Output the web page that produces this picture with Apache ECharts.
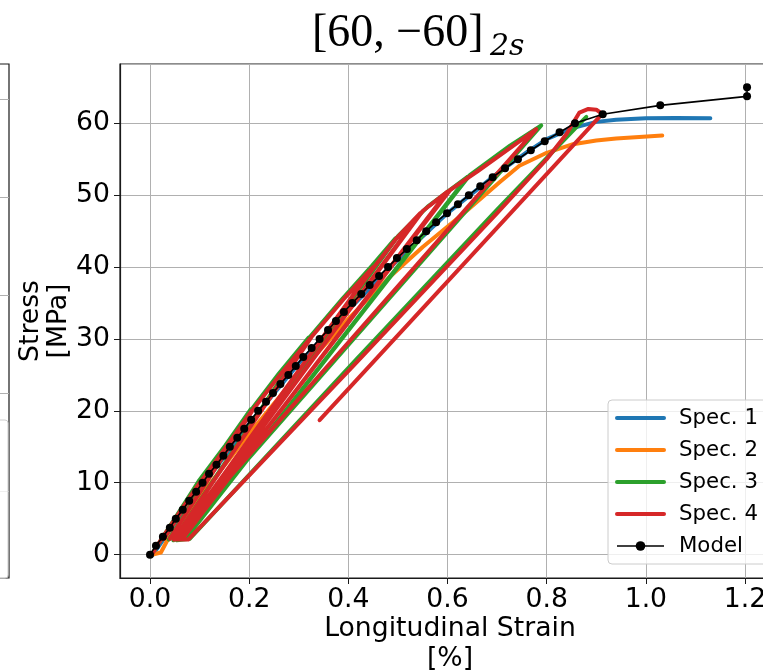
<!DOCTYPE html>
<html><head><meta charset="utf-8">
<script src="https://cdn.jsdelivr.net/npm/echarts@6/dist/echarts.min.js"></script>
<style>html,body{margin:0;padding:0;background:#fff}#c{width:763px;height:672px}</style>
</head><body><div id="c"></div>
<script>
// ---- data (strain in %, stress in MPa) ----
const modelStrain = [0, 0.012, 0.026, 0.040, 0.052, 0.066, 0.079, 0.093, 0.106, 0.119, 0.134, 0.148, 0.161, 0.176, 0.190, 0.204, 0.218, 0.234, 0.248, 0.263, 0.279, 0.294, 0.309, 0.326, 0.342, 0.359, 0.375, 0.391, 0.408, 0.426, 0.443, 0.462, 0.480, 0.498, 0.518, 0.538, 0.557, 0.577, 0.599, 0.621, 0.643, 0.666, 0.691, 0.716, 0.742, 0.768, 0.796, 0.826, 0.857, 0.913, 1.029, 1.204, 1.204];
const modelStress = [0, 1.25, 2.5, 3.75, 5, 6.25, 7.5, 8.75, 10, 11.25, 12.5, 13.75, 15, 16.25, 17.5, 18.75, 20, 21.25, 22.5, 23.75, 25, 26.25, 27.5, 28.75, 30, 31.25, 32.5, 33.75, 35, 36.25, 37.5, 38.75, 40, 41.25, 42.5, 43.75, 45, 46.25, 47.5, 48.75, 50, 51.25, 52.5, 53.75, 55, 56.25, 57.5, 58.75, 60, 61.25, 62.5, 63.75, 65];

const spec1Strain = [0.006, 0.05, 0.10, 0.20, 0.30, 0.40, 0.50, 0.60, 0.70, 0.76, 0.80, 0.85, 0.90, 0.94, 1.00, 1.06, 1.13];
const spec1Stress = [0, 4.4, 9.1, 18.2, 26.6, 34.0, 41.0, 47.5, 53.0, 56.0, 57.8, 59.3, 60.2, 60.5, 60.7, 60.75, 60.7];

const spec2Strain = [0.005, 0.022, 0.035, 0.10, 0.20, 0.30, 0.40, 0.48, 0.55, 0.64, 0.705, 0.745, 0.80, 0.853, 0.90, 0.94, 1.033];
const spec2Stress = [0, 0.3, 2.0, 8.0, 16.8, 25.2, 32.8, 38.4, 42.8, 47.9, 51.8, 54.1, 55.9, 57.1, 57.6, 57.9, 58.3];

const spec3Strain = [0.003, 0.050, 0.098, 0.152, 0.203, 0.038, 0.207, 0.260, 0.320, 0.047, 0.324, 0.388, 0.448, 0.495, 0.058, 0.500, 0.560, 0.641, 0.072, 0.645, 0.726, 0.789, 0.054, 0.080, 0.418, 0.700, 0.873, 0.880];
const spec3Stress = [0, 5.0, 10.2, 15.2, 20.2, 2.1, 20.4, 25.2, 30.2, 2.0, 30.4, 35.6, 40.2, 44.0, 2.1, 44.3, 48.4, 52.6, 2.2, 52.8, 56.9, 59.7, 2.0, 2.2, 27.3, 48.0, 60.4, 60.9];

const spec4Strain = [0.004, 0.012, 0.050, 0.100, 0.028, 0.060, 0.104, 0.154, 0.205, 0.040, 0.120, 0.209, 0.262, 0.322, 0.048, 0.180, 0.326, 0.390, 0.450, 0.055, 0.250, 0.455, 0.497, 0.545, 0.062, 0.300, 0.550, 0.600, 0.068, 0.350, 0.605, 0.662, 0.735, 0.779, 0.050, 0.077, 0.420, 0.700, 0.800, 0.840, 0.866, 0.884, 0.900, 0.912, 0.342];
const spec4Stress = [0.0, 1.0, 4.9, 10.0, 2.2, 5.6, 10.3, 15.0, 20.0, 2.2, 10.7, 20.3, 25.0, 30.0, 2.1, 15.5, 30.3, 35.5, 40.0, 2.2, 20.8, 40.3, 44.0, 47.5, 2.3, 24.5, 47.8, 50.5, 2.4, 27.8, 50.7, 53.4, 57.0, 59.2, 2.1, 2.1, 27.0, 47.5, 55.0, 58.5, 61.5, 62.0, 61.9, 61.3, 18.7];

const seriesNames = ['Spec. 1', 'Spec. 2', 'Spec. 3', 'Spec. 4', 'Model'];
const seriesColors = ['#1f77b4', '#ff7f0e', '#2ca02c', '#d62728', '#000000'];

function pairs(xs, ys) { return xs.map((x, i) => [x, ys[i]]); }

const FONT = 'DejaVu Sans';
const chart = echarts.init(document.getElementById('c'), null, { renderer: 'canvas' });

function specSeries(i, xs, ys) {
  return {
    name: seriesNames[i], type: 'line', xAxisIndex: 0, yAxisIndex: 0,
    data: pairs(xs, ys), symbol: 'none', showSymbol: false,
    lineStyle: { width: 4, color: seriesColors[i], join: 'round', cap: 'round' },
    itemStyle: { color: seriesColors[i] },
    z: 2 + i, silent: true, clip: true
  };
}

const option = {
  animation: false,
  backgroundColor: '#ffffff',
  title: [
    { text: '[60, \u221260]', left: 312, top: 11, padding: 0,
      textStyle: { fontFamily: 'Liberation Serif', fontSize: 46, fontWeight: 'normal', color: '#000' } },
    { text: '2s', left: 490, top: 32, padding: 0,
      textStyle: { fontFamily: 'DejaVu Serif', fontStyle: 'italic', fontSize: 30, fontWeight: 'normal', color: '#000' } }
  ],
  grid: [
    { left: 120, right: -17, top: 64, bottom: 94, show: true, borderColor: '#1a1a1a', borderWidth: 1.2,
      backgroundColor: 'transparent', outerBoundsMode: 'none', containLabel: false },
    { left: -300, right: 754, top: 64, bottom: 94, show: true, borderColor: '#1a1a1a', borderWidth: 1.2,
      backgroundColor: 'transparent', outerBoundsMode: 'none', containLabel: false }
  ],
  xAxis: [
    { type: 'value', gridIndex: 0, min: -0.0605, max: 1.2705, splitNumber: 6,
      axisLine: { show: true, onZero: false, lineStyle: { color: '#1a1a1a', width: 1.2 } },
      axisTick: { show: true, length: 6, lineStyle: { color: '#1a1a1a', width: 1 } },
      axisLabel: { fontFamily: FONT, fontSize: 26.67, color: '#000', margin: 9,
        showMinLabel: false, showMaxLabel: false, formatter: v => v.toFixed(1) },
      splitLine: { show: true, lineStyle: { color: '#b0b0b0', width: 1 } },
      name: 'Longitudinal Strain\n[%]', nameLocation: 'middle', nameGap: 36, nameMoveOverlap: false,
      nameTextStyle: { fontFamily: FONT, fontSize: 26.67, color: '#000', lineHeight: 30 } },
    { type: 'value', gridIndex: 1, min: 0, max: 1, show: false }
  ],
  yAxis: [
    { type: 'value', gridIndex: 0, min: -3.25, max: 68.25, splitNumber: 7,
      axisLine: { show: true, onZero: false, lineStyle: { color: '#1a1a1a', width: 1.2 } },
      axisTick: { show: true, length: 6, lineStyle: { color: '#1a1a1a', width: 1 } },
      axisLabel: { fontFamily: FONT, fontSize: 26.67, color: '#000', margin: 10,
        showMinLabel: false, showMaxLabel: false, formatter: v => String(Math.round(v)) },
      splitLine: { show: true, lineStyle: { color: '#b0b0b0', width: 1 } },
      name: 'Stress\n[MPa]', nameLocation: 'middle', nameGap: 47, nameRotate: 90, nameMoveOverlap: false,
      nameTextStyle: { fontFamily: FONT, fontSize: 26.67, color: '#000', lineHeight: 28 } },
    { type: 'value', gridIndex: 1, min: -0.888, max: 4.357, splitNumber: 5,
      axisLine: { show: false }, axisTick: { show: false }, axisLabel: { show: false },
      splitLine: { show: true, showMinLine: false, showMaxLine: false, lineStyle: { color: '#b0b0b0', width: 1 } } }
  ],
  legend: {
    left: 608, top: 400, orient: 'vertical',
    padding: [7, 14, 7, 7], itemWidth: 47, itemHeight: 12, itemGap: 10,
    backgroundColor: 'rgba(255,255,255,0.8)', borderColor: '#cccccc', borderWidth: 1, borderRadius: 4,
    textStyle: { fontFamily: FONT, fontSize: 21.3, color: '#000', lineHeight: 22, padding: [0, 0, 0, 10] },
    data: [
      { name: 'Spec. 1', itemStyle: { opacity: 0 }, lineStyle: { width: 4 } },
      { name: 'Spec. 2', itemStyle: { opacity: 0 }, lineStyle: { width: 4 } },
      { name: 'Spec. 3', itemStyle: { opacity: 0 }, lineStyle: { width: 4 } },
      { name: 'Spec. 4', itemStyle: { opacity: 0 }, lineStyle: { width: 4 } },
      { name: 'Model', lineStyle: { width: 1.6 } }
    ]
  },
  graphic: [
    { type: 'rect', shape: { x: -20, y: 420, width: 28, height: 158, r: 3 }, z: 20,
      style: { fill: 'rgba(255,255,255,0.8)', stroke: '#cccccc', lineWidth: 1 } }
  ],
  series: [
    specSeries(0, spec1Strain, spec1Stress),
    specSeries(1, spec2Strain, spec2Stress),
    specSeries(2, spec3Strain, spec3Stress),
    specSeries(3, spec4Strain, spec4Stress),
    { name: 'Model', type: 'line', xAxisIndex: 0, yAxisIndex: 0,
      data: pairs(modelStrain, modelStress), symbol: 'circle', symbolSize: 8, showSymbol: true,
      lineStyle: { width: 1.6, color: '#000' }, itemStyle: { color: '#000' }, z: 10, silent: true }
  ]
};
chart.setOption(option);
</script></body></html>
